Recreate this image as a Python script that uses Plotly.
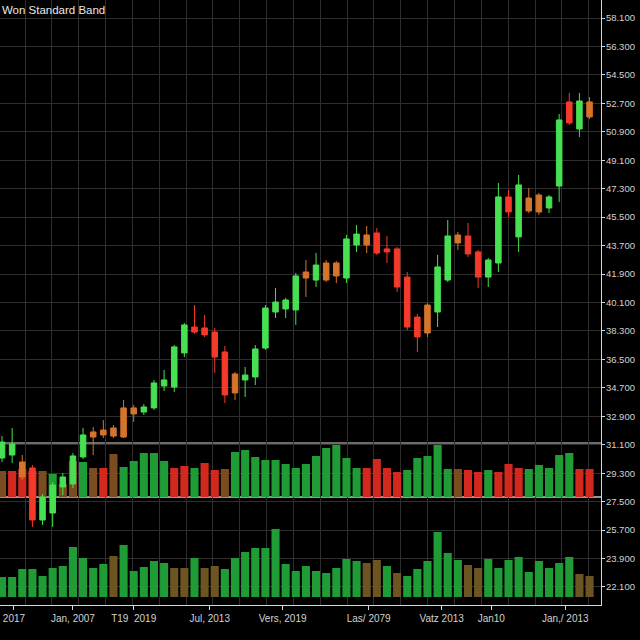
import plotly.graph_objects as go

# ---------------- data ----------------
title_text = "Won Standard Band"

# candle index (trading sessions)
sessions = list(range(59))

open_ = [30.26, 30.45, 30.01, 29.63, 26.34, 26.78, 28.43, 28.62, 30.33, 31.91,
         32.03, 32.16, 33.43, 33.43, 33.17, 33.43, 34.82, 34.75, 36.91, 38.55,
         38.49, 38.23, 36.97, 35.58, 35.20, 35.39, 37.22, 39.50, 39.69, 39.63,
         42.03, 41.52, 42.60, 42.60, 41.65, 43.74, 44.37, 44.50, 43.49, 43.49,
         41.71, 39.18, 39.94, 39.50, 41.52, 44.37, 44.31, 43.30, 41.71, 42.60,
         46.78, 44.25, 46.71, 46.90, 46.08, 47.47, 52.79, 51.08, 52.79]
high = [31.65, 32.16, 30.45, 29.82, 27.98, 28.74, 29.31, 30.58, 32.16, 32.22,
        32.67, 32.35, 33.93, 33.62, 33.68, 35.20, 35.83, 37.41, 38.80, 39.94,
        39.31, 38.49, 37.35, 35.70, 36.02, 37.41, 39.94, 41.02, 40.39, 41.97,
        42.79, 43.23, 42.79, 42.73, 44.37, 45.00, 44.94, 44.81, 44.31, 43.61,
        42.03, 39.37, 40.07, 43.11, 45.32, 44.56, 45.13, 43.42, 42.92, 47.66,
        47.22, 48.17, 47.35, 47.03, 46.90, 52.03, 53.36, 53.36, 53.10]
low = [30.01, 29.95, 28.87, 25.90, 26.02, 25.90, 27.92, 28.36, 30.20, 30.45,
       31.53, 31.53, 31.53, 32.54, 32.98, 33.30, 34.50, 34.44, 36.65, 38.11,
       37.92, 35.64, 33.74, 33.93, 34.12, 34.88, 37.10, 39.12, 39.12, 38.68,
       40.45, 41.08, 41.40, 41.33, 41.33, 43.30, 43.23, 43.11, 42.60, 40.77,
       38.36, 36.97, 37.92, 38.55, 41.40, 43.42, 42.98, 41.02, 41.08, 42.03,
       45.51, 43.30, 45.76, 45.64, 45.76, 46.46, 51.33, 50.57, 51.71]
close = [31.27, 31.15, 29.06, 26.34, 27.80, 28.55, 29.06, 30.39, 31.72, 31.59,
         31.72, 31.65, 31.59, 33.05, 33.49, 35.01, 35.20, 37.29, 38.68, 38.23,
         38.05, 36.65, 34.25, 34.38, 35.51, 37.16, 39.75, 40.13, 40.26, 41.78,
         41.65, 42.47, 41.52, 41.78, 44.12, 44.43, 43.74, 43.23, 43.30, 41.08,
         38.55, 37.92, 38.17, 42.35, 44.31, 43.87, 43.17, 41.71, 42.79, 46.78,
         45.83, 47.54, 45.89, 45.83, 46.78, 51.65, 51.46, 52.85, 51.84]
# candle colour group: g = up, r = down, o = small / neutral
candle_kind = ["g", "g", "o", "r", "g", "g", "g", "g", "g", "o",
               "o", "o", "o", "o", "g", "g", "g", "g", "g", "r",
               "r", "r", "r", "o", "g", "g", "g", "g", "g", "g",
               "o", "g", "o", "o", "g", "g", "o", "r", "r", "r",
               "r", "r", "o", "g", "g", "o", "r", "r", "g", "g",
               "r", "g", "o", "o", "g", "g", "r", "g", "o"]

# volume band 1
vol_upper = [2600, 2600, 2800, 2600, 2600, 2300, 1300, 3600, 3500, 2900,
             2900, 4300, 3000, 3600, 4400, 4400, 3600, 2900, 3100, 2900,
             3400, 2700, 2800, 4500, 4700, 4000, 3700, 3700, 3300, 2900,
             3300, 4100, 4900, 5200, 3900, 2900, 2900, 3800, 2900, 2500,
             2700, 3900, 4100, 5200, 2800, 2800, 2700, 2500, 2700, 2500,
             3300, 2900, 2800, 3200, 2900, 4200, 4400, 2800, 2800]
vol_upper_kind = ["b", "r", "r", "r", "b", "g", "b", "b", "g", "b",
                  "r", "b", "g", "g", "g", "g", "g", "r", "r", "g",
                  "r", "r", "b", "g", "g", "g", "g", "g", "g", "g",
                  "g", "g", "g", "g", "g", "g", "r", "r", "r", "r",
                  "g", "g", "g", "g", "g", "b", "r", "r", "g", "r",
                  "r", "r", "g", "g", "g", "g", "g", "r", "r"]

# volume band 2
vol_lower = [2000, 2000, 2800, 2800, 2100, 2900, 3100, 5000, 3900, 2900,
             3300, 4100, 5200, 2600, 3000, 3600, 3400, 2900, 2900, 3900,
             2900, 3100, 2800, 3900, 4500, 4900, 4900, 6800, 3300, 2600,
             3100, 2600, 2400, 2900, 3800, 3600, 3400, 3700, 3100, 2400,
             2100, 2800, 3600, 6500, 4400, 3700, 3200, 2900, 3800, 2900,
             3700, 4000, 2500, 3600, 2900, 3400, 4000, 2300, 2100]
vol_lower_kind = ["g", "g", "g", "g", "g", "g", "g", "g", "g", "g",
                  "g", "b", "g", "g", "g", "g", "g", "b", "b", "g",
                  "b", "b", "g", "g", "g", "g", "g", "g", "g", "g",
                  "g", "g", "g", "g", "g", "g", "b", "b", "g", "b",
                  "g", "g", "g", "g", "g", "g", "b", "b", "g", "g",
                  "g", "g", "g", "g", "g", "g", "g", "b", "b"]

x_tick_pos = [1.18, 7.0, 13.0, 20.5, 27.7, 36.2, 43.4, 48.3, 55.6]
x_tick_text = ["2017", "Jan, 2007", "T19  2019", "Jul, 2013", "Vers, 2019",
               "Las/ 2079", "Vatz 2013", "Jan10", "Jan,/ 2013"]

# ---------------- style ----------------
candle_colors = {"g": "#47e052", "r": "#f43a2a", "o": "#d5742b"}
vol_up_colors = {"g": "#1f9c35", "r": "#d2281d", "b": "#7b4c1f"}
vol_lo_colors = {"g": "#1f9c35", "b": "#6c5522"}

PRICE_RANGE = [20.96, 59.24]
X_RANGE = [-0.2, 59.13]
TEXT = "#d2d2d2"
LINE = "#d8d8d8"
GRID = "#2e2e2e"
FONT = "Liberation Sans, Arial, sans-serif"

fig = go.Figure()

# empty trace on the gridded axes so that the grid subplot is drawn first
fig.add_trace(go.Scatter(x=[], y=[], xaxis="x", yaxis="y", showlegend=False,
                         hoverinfo="skip"))

fig.add_trace(go.Bar(x=sessions, y=vol_upper, xaxis="x2", yaxis="y2",
                     marker=dict(color=[vol_up_colors[k] for k in vol_upper_kind],
                                 line=dict(width=0)),
                     showlegend=False))
fig.add_trace(go.Bar(x=sessions, y=vol_lower, xaxis="x2", yaxis="y3",
                     marker=dict(color=[vol_lo_colors[k] for k in vol_lower_kind],
                                 line=dict(width=0)),
                     showlegend=False))

for k, col in candle_colors.items():
    idx = [i for i, kk in enumerate(candle_kind) if kk == k]
    fig.add_trace(go.Candlestick(
        x=[sessions[i] for i in idx],
        open=[open_[i] for i in idx],
        high=[high[i] for i in idx],
        low=[low[i] for i in idx],
        close=[close[i] for i in idx],
        xaxis="x2", yaxis="y4",
        increasing=dict(line=dict(color=col, width=1), fillcolor=col),
        decreasing=dict(line=dict(color=col, width=1), fillcolor=col),
        whiskerwidth=0,
        showlegend=False,
    ))

plot_h = 605.0
band1 = [1 - 497 / plot_h, 1 - 443 / plot_h]
band2 = [1 - 597 / plot_h, 1 - 497 / plot_h]

hidden = dict(visible=False, showgrid=False, zeroline=False, autorange=False)

fig.update_layout(
    width=640, height=640,
    margin=dict(l=0, r=39, t=0, b=35),
    paper_bgcolor="#000000",
    plot_bgcolor="rgba(0,0,0,0)",
    font=dict(family=FONT, size=10, color=TEXT),
    showlegend=False,
    bargap=0.2,
    boxgap=0.22,
    title=dict(text=title_text, x=0.003, xanchor="left", y=0.985, yanchor="middle",
               font=dict(family=FONT, size=11.5, color="#e8e8e8")),
    xaxis=dict(
        range=X_RANGE, autorange=False,
        tickmode="array", tickvals=x_tick_pos, ticktext=x_tick_text,
        showgrid=False, zeroline=False,
        minor=dict(tick0=2.27, dtick=2.65, showgrid=True, gridcolor=GRID,
                   gridwidth=1, ticks=""),
        showline=True, linecolor=LINE, linewidth=1,
        ticks="outside", ticklen=4, tickcolor=LINE,
        tickfont=dict(size=10, color=TEXT),
        anchor="y",
    ),
    xaxis2=dict(range=X_RANGE, anchor="y2",
                rangeslider=dict(visible=False), **hidden),
    yaxis=dict(
        domain=[0, 1], range=PRICE_RANGE, autorange=False, side="right", anchor="x",
        tick0=58.1, dtick=1.8, tickformat=".3f",
        showgrid=True, gridcolor=GRID, gridwidth=1, zeroline=False,
        showline=True, linecolor=LINE, linewidth=1,
        ticks="outside", ticklen=3, tickcolor=LINE,
        ticklabelstandoff=-1,
        tickfont=dict(size=9.5, color=TEXT),
    ),
    yaxis2=dict(domain=band1, range=[0, 5400], anchor="x2", **hidden),
    yaxis3=dict(domain=band2, range=[0, 10000], anchor="x2", **hidden),
    yaxis4=dict(domain=[0, 1], range=PRICE_RANGE, anchor="x2", **hidden),
    shapes=[
        dict(type="line", xref="paper", yref="y2 domain", x0=0, x1=1, y0=1, y1=1,
             line=dict(color="#8f8f8f", width=1.5), layer="below"),
        dict(type="line", xref="paper", yref="y2 domain", x0=0, x1=1, y0=0, y1=0,
             line=dict(color="#c8c8c8", width=1.5), layer="below"),
    ],
)

fig.write_html(
    "out.html",
    config={"displayModeBar": False},
    post_script="document.body.style.margin='0px';"
                "document.body.style.background='#000000';",
)
